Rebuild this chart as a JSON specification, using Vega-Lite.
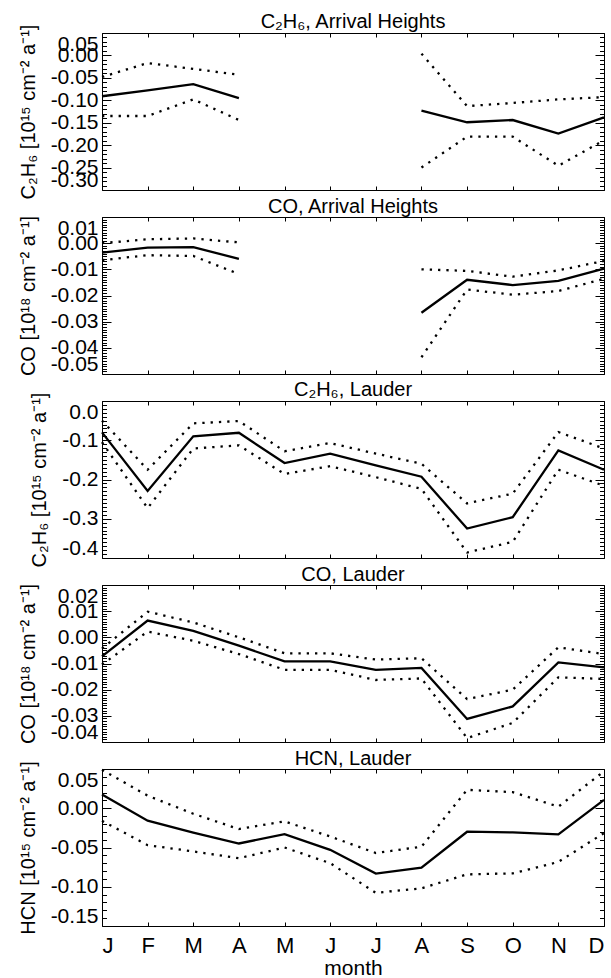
{
  "$schema": "https://vega.github.io/schema/vega-lite/v6.json",
  "background": "white",
  "padding": {"left": 17, "top": 11, "right": 5, "bottom": 0},
  "spacing": 27,
  "bounds": "flush",
  "config": {
    "view": {"stroke": "black", "strokeWidth": 1},
    "axis": {"domain": false, "grid": false, "tickColor": "black", "tickWidth": 1, "labelFont": "Liberation Sans", "labelFontSize": 21, "labelColor": "black", "titleFont": "Liberation Sans", "titleFontSize": 20, "titleFontWeight": "normal", "titleColor": "black", "labelOverlap": false},
    "title": {"font": "Liberation Sans", "fontSize": 20, "fontWeight": "normal", "color": "black", "offset": -8},
    "line": {"color": "black"}
  },
  "data": {"values": [
    {"p": 1, "s": "mean", "g": "a", "m": 1, "v": -0.091},
    {"p": 1, "s": "mean", "g": "a", "m": 2, "v": -0.078},
    {"p": 1, "s": "mean", "g": "a", "m": 3, "v": -0.064},
    {"p": 1, "s": "mean", "g": "a", "m": 4, "v": -0.095},
    {"p": 1, "s": "mean", "g": "b", "m": 8, "v": -0.123},
    {"p": 1, "s": "mean", "g": "b", "m": 9, "v": -0.149},
    {"p": 1, "s": "mean", "g": "b", "m": 10, "v": -0.144},
    {"p": 1, "s": "mean", "g": "b", "m": 11, "v": -0.174},
    {"p": 1, "s": "mean", "g": "b", "m": 12, "v": -0.138},
    {"p": 1, "s": "upper", "g": "a", "m": 1, "v": -0.048},
    {"p": 1, "s": "upper", "g": "a", "m": 2, "v": -0.017},
    {"p": 1, "s": "upper", "g": "a", "m": 3, "v": -0.030},
    {"p": 1, "s": "upper", "g": "a", "m": 4, "v": -0.043},
    {"p": 1, "s": "upper", "g": "b", "m": 8, "v": 0.004},
    {"p": 1, "s": "upper", "g": "b", "m": 9, "v": -0.113},
    {"p": 1, "s": "upper", "g": "b", "m": 10, "v": -0.106},
    {"p": 1, "s": "upper", "g": "b", "m": 11, "v": -0.098},
    {"p": 1, "s": "upper", "g": "b", "m": 12, "v": -0.093},
    {"p": 1, "s": "lower", "g": "a", "m": 1, "v": -0.135},
    {"p": 1, "s": "lower", "g": "a", "m": 2, "v": -0.135},
    {"p": 1, "s": "lower", "g": "a", "m": 3, "v": -0.098},
    {"p": 1, "s": "lower", "g": "a", "m": 4, "v": -0.144},
    {"p": 1, "s": "lower", "g": "b", "m": 8, "v": -0.250},
    {"p": 1, "s": "lower", "g": "b", "m": 9, "v": -0.181},
    {"p": 1, "s": "lower", "g": "b", "m": 10, "v": -0.181},
    {"p": 1, "s": "lower", "g": "b", "m": 11, "v": -0.246},
    {"p": 1, "s": "lower", "g": "b", "m": 12, "v": -0.189},

    {"p": 2, "s": "mean", "g": "a", "m": 1, "v": -0.0036},
    {"p": 2, "s": "mean", "g": "a", "m": 2, "v": -0.0017},
    {"p": 2, "s": "mean", "g": "a", "m": 3, "v": -0.0015},
    {"p": 2, "s": "mean", "g": "a", "m": 4, "v": -0.0060},
    {"p": 2, "s": "mean", "g": "b", "m": 8, "v": -0.0266},
    {"p": 2, "s": "mean", "g": "b", "m": 9, "v": -0.0140},
    {"p": 2, "s": "mean", "g": "b", "m": 10, "v": -0.0160},
    {"p": 2, "s": "mean", "g": "b", "m": 11, "v": -0.0144},
    {"p": 2, "s": "mean", "g": "b", "m": 12, "v": -0.0097},
    {"p": 2, "s": "upper", "g": "a", "m": 1, "v": 0.0000},
    {"p": 2, "s": "upper", "g": "a", "m": 2, "v": 0.0015},
    {"p": 2, "s": "upper", "g": "a", "m": 3, "v": 0.0018},
    {"p": 2, "s": "upper", "g": "a", "m": 4, "v": 0.0003},
    {"p": 2, "s": "upper", "g": "b", "m": 8, "v": -0.0100},
    {"p": 2, "s": "upper", "g": "b", "m": 9, "v": -0.0106},
    {"p": 2, "s": "upper", "g": "b", "m": 10, "v": -0.0128},
    {"p": 2, "s": "upper", "g": "b", "m": 11, "v": -0.0104},
    {"p": 2, "s": "upper", "g": "b", "m": 12, "v": -0.0068},
    {"p": 2, "s": "lower", "g": "a", "m": 1, "v": -0.0065},
    {"p": 2, "s": "lower", "g": "a", "m": 2, "v": -0.0046},
    {"p": 2, "s": "lower", "g": "a", "m": 3, "v": -0.0049},
    {"p": 2, "s": "lower", "g": "a", "m": 4, "v": -0.0118},
    {"p": 2, "s": "lower", "g": "b", "m": 8, "v": -0.0436},
    {"p": 2, "s": "lower", "g": "b", "m": 9, "v": -0.0177},
    {"p": 2, "s": "lower", "g": "b", "m": 10, "v": -0.0197},
    {"p": 2, "s": "lower", "g": "b", "m": 11, "v": -0.0183},
    {"p": 2, "s": "lower", "g": "b", "m": 12, "v": -0.0136},

    {"p": 3, "s": "mean", "g": "a", "m": 1, "v": -0.080},
    {"p": 3, "s": "mean", "g": "a", "m": 2, "v": -0.229},
    {"p": 3, "s": "mean", "g": "a", "m": 3, "v": -0.090},
    {"p": 3, "s": "mean", "g": "a", "m": 4, "v": -0.081},
    {"p": 3, "s": "mean", "g": "a", "m": 5, "v": -0.158},
    {"p": 3, "s": "mean", "g": "a", "m": 6, "v": -0.134},
    {"p": 3, "s": "mean", "g": "a", "m": 7, "v": -0.164},
    {"p": 3, "s": "mean", "g": "a", "m": 8, "v": -0.193},
    {"p": 3, "s": "mean", "g": "a", "m": 9, "v": -0.325},
    {"p": 3, "s": "mean", "g": "a", "m": 10, "v": -0.296},
    {"p": 3, "s": "mean", "g": "a", "m": 11, "v": -0.126},
    {"p": 3, "s": "mean", "g": "a", "m": 12, "v": -0.175},
    {"p": 3, "s": "upper", "g": "a", "m": 1, "v": -0.050},
    {"p": 3, "s": "upper", "g": "a", "m": 2, "v": -0.175},
    {"p": 3, "s": "upper", "g": "a", "m": 3, "v": -0.057},
    {"p": 3, "s": "upper", "g": "a", "m": 4, "v": -0.051},
    {"p": 3, "s": "upper", "g": "a", "m": 5, "v": -0.128},
    {"p": 3, "s": "upper", "g": "a", "m": 6, "v": -0.107},
    {"p": 3, "s": "upper", "g": "a", "m": 7, "v": -0.134},
    {"p": 3, "s": "upper", "g": "a", "m": 8, "v": -0.160},
    {"p": 3, "s": "upper", "g": "a", "m": 9, "v": -0.261},
    {"p": 3, "s": "upper", "g": "a", "m": 10, "v": -0.236},
    {"p": 3, "s": "upper", "g": "a", "m": 11, "v": -0.079},
    {"p": 3, "s": "upper", "g": "a", "m": 12, "v": -0.121},
    {"p": 3, "s": "lower", "g": "a", "m": 1, "v": -0.105},
    {"p": 3, "s": "lower", "g": "a", "m": 2, "v": -0.273},
    {"p": 3, "s": "lower", "g": "a", "m": 3, "v": -0.121},
    {"p": 3, "s": "lower", "g": "a", "m": 4, "v": -0.113},
    {"p": 3, "s": "lower", "g": "a", "m": 5, "v": -0.186},
    {"p": 3, "s": "lower", "g": "a", "m": 6, "v": -0.166},
    {"p": 3, "s": "lower", "g": "a", "m": 7, "v": -0.194},
    {"p": 3, "s": "lower", "g": "a", "m": 8, "v": -0.224},
    {"p": 3, "s": "lower", "g": "a", "m": 9, "v": -0.386},
    {"p": 3, "s": "lower", "g": "a", "m": 10, "v": -0.359},
    {"p": 3, "s": "lower", "g": "a", "m": 11, "v": -0.175},
    {"p": 3, "s": "lower", "g": "a", "m": 12, "v": -0.216},

    {"p": 4, "s": "mean", "g": "a", "m": 1, "v": -0.0073},
    {"p": 4, "s": "mean", "g": "a", "m": 2, "v": 0.0064},
    {"p": 4, "s": "mean", "g": "a", "m": 3, "v": 0.0025},
    {"p": 4, "s": "mean", "g": "a", "m": 4, "v": -0.0032},
    {"p": 4, "s": "mean", "g": "a", "m": 5, "v": -0.0092},
    {"p": 4, "s": "mean", "g": "a", "m": 6, "v": -0.0092},
    {"p": 4, "s": "mean", "g": "a", "m": 7, "v": -0.0124},
    {"p": 4, "s": "mean", "g": "a", "m": 8, "v": -0.0117},
    {"p": 4, "s": "mean", "g": "a", "m": 9, "v": -0.0312},
    {"p": 4, "s": "mean", "g": "a", "m": 10, "v": -0.0264},
    {"p": 4, "s": "mean", "g": "a", "m": 11, "v": -0.0096},
    {"p": 4, "s": "mean", "g": "a", "m": 12, "v": -0.0115},
    {"p": 4, "s": "upper", "g": "a", "m": 1, "v": -0.0043},
    {"p": 4, "s": "upper", "g": "a", "m": 2, "v": 0.0098},
    {"p": 4, "s": "upper", "g": "a", "m": 3, "v": 0.0057},
    {"p": 4, "s": "upper", "g": "a", "m": 4, "v": 0.0000},
    {"p": 4, "s": "upper", "g": "a", "m": 5, "v": -0.0061},
    {"p": 4, "s": "upper", "g": "a", "m": 6, "v": -0.0061},
    {"p": 4, "s": "upper", "g": "a", "m": 7, "v": -0.0085},
    {"p": 4, "s": "upper", "g": "a", "m": 8, "v": -0.0080},
    {"p": 4, "s": "upper", "g": "a", "m": 9, "v": -0.0236},
    {"p": 4, "s": "upper", "g": "a", "m": 10, "v": -0.0200},
    {"p": 4, "s": "upper", "g": "a", "m": 11, "v": -0.0038},
    {"p": 4, "s": "upper", "g": "a", "m": 12, "v": -0.0064},
    {"p": 4, "s": "lower", "g": "a", "m": 1, "v": -0.0104},
    {"p": 4, "s": "lower", "g": "a", "m": 2, "v": 0.0022},
    {"p": 4, "s": "lower", "g": "a", "m": 3, "v": -0.0013},
    {"p": 4, "s": "lower", "g": "a", "m": 4, "v": -0.0064},
    {"p": 4, "s": "lower", "g": "a", "m": 5, "v": -0.0124},
    {"p": 4, "s": "lower", "g": "a", "m": 6, "v": -0.0124},
    {"p": 4, "s": "lower", "g": "a", "m": 7, "v": -0.0163},
    {"p": 4, "s": "lower", "g": "a", "m": 8, "v": -0.0157},
    {"p": 4, "s": "lower", "g": "a", "m": 9, "v": -0.0385},
    {"p": 4, "s": "lower", "g": "a", "m": 10, "v": -0.0327},
    {"p": 4, "s": "lower", "g": "a", "m": 11, "v": -0.0153},
    {"p": 4, "s": "lower", "g": "a", "m": 12, "v": -0.0159},

    {"p": 5, "s": "mean", "g": "a", "m": 1, "v": 0.0175},
    {"p": 5, "s": "mean", "g": "a", "m": 2, "v": -0.0158},
    {"p": 5, "s": "mean", "g": "a", "m": 3, "v": -0.0310},
    {"p": 5, "s": "mean", "g": "a", "m": 4, "v": -0.0449},
    {"p": 5, "s": "mean", "g": "a", "m": 5, "v": -0.0329},
    {"p": 5, "s": "mean", "g": "a", "m": 6, "v": -0.0530},
    {"p": 5, "s": "mean", "g": "a", "m": 7, "v": -0.0833},
    {"p": 5, "s": "mean", "g": "a", "m": 8, "v": -0.0756},
    {"p": 5, "s": "mean", "g": "a", "m": 9, "v": -0.0299},
    {"p": 5, "s": "mean", "g": "a", "m": 10, "v": -0.0308},
    {"p": 5, "s": "mean", "g": "a", "m": 11, "v": -0.0333},
    {"p": 5, "s": "mean", "g": "a", "m": 12, "v": 0.0107},
    {"p": 5, "s": "upper", "g": "a", "m": 1, "v": 0.0490},
    {"p": 5, "s": "upper", "g": "a", "m": 2, "v": 0.0160},
    {"p": 5, "s": "upper", "g": "a", "m": 3, "v": -0.0070},
    {"p": 5, "s": "upper", "g": "a", "m": 4, "v": -0.0265},
    {"p": 5, "s": "upper", "g": "a", "m": 5, "v": -0.0167},
    {"p": 5, "s": "upper", "g": "a", "m": 6, "v": -0.0360},
    {"p": 5, "s": "upper", "g": "a", "m": 7, "v": -0.0570},
    {"p": 5, "s": "upper", "g": "a", "m": 8, "v": -0.0490},
    {"p": 5, "s": "upper", "g": "a", "m": 9, "v": 0.0235},
    {"p": 5, "s": "upper", "g": "a", "m": 10, "v": 0.0205},
    {"p": 5, "s": "upper", "g": "a", "m": 11, "v": 0.0020},
    {"p": 5, "s": "upper", "g": "a", "m": 12, "v": 0.0470},
    {"p": 5, "s": "lower", "g": "a", "m": 1, "v": -0.0160},
    {"p": 5, "s": "lower", "g": "a", "m": 2, "v": -0.0470},
    {"p": 5, "s": "lower", "g": "a", "m": 3, "v": -0.0550},
    {"p": 5, "s": "lower", "g": "a", "m": 4, "v": -0.0637},
    {"p": 5, "s": "lower", "g": "a", "m": 5, "v": -0.0500},
    {"p": 5, "s": "lower", "g": "a", "m": 6, "v": -0.0700},
    {"p": 5, "s": "lower", "g": "a", "m": 7, "v": -0.1077},
    {"p": 5, "s": "lower", "g": "a", "m": 8, "v": -0.1020},
    {"p": 5, "s": "lower", "g": "a", "m": 9, "v": -0.0842},
    {"p": 5, "s": "lower", "g": "a", "m": 10, "v": -0.0830},
    {"p": 5, "s": "lower", "g": "a", "m": 11, "v": -0.0684},
    {"p": 5, "s": "lower", "g": "a", "m": 12, "v": -0.0316}
  ]},
  "vconcat": [
    {
      "width": 502, "height": 157,
      "title": "C₂H₆, Arrival Heights",
      "transform": [{"filter": "datum.p == 1"}],
      "resolve": {"axis": {"x": "independent", "y": "independent"}},
      "layer": [
        {
          "transform": [{"filter": "datum.s == 'mean'"}],
          "mark": {"type": "line", "strokeWidth": 2.3, "color": "black"},
          "encoding": {
            "x": {"field": "m", "type": "quantitative", "scale": {"domain": [1, 12], "nice": false, "zero": false},
                  "axis": {"orient": "bottom", "values": [1,2,3,4,5,6,7,8,9,10,11,12], "tickSize": -4, "labels": false, "title": null}},
            "y": {"field": "v", "type": "quantitative", "scale": {"domain": [-0.30, 0.05], "nice": false, "zero": false},
                  "axis": {"orient": "left", "values": [0.05,0.04,0.03,0.02,0.01,0,-0.01,-0.02,-0.03,-0.04,-0.05,-0.06,-0.07,-0.08,-0.09,-0.1,-0.11,-0.12,-0.13,-0.14,-0.15,-0.16,-0.17,-0.18,-0.19,-0.2,-0.21,-0.22,-0.23,-0.24,-0.25,-0.26,-0.27,-0.28,-0.29,-0.3],
                           "tickSize": {"condition": {"test": "abs(round(datum.value*100)) % 5 == 0", "value": -9}, "value": -4.5},
                           "labelExpr": "abs(round(datum.value*100)) % 5 == 0 ? replace(format(datum.value, '.2f'), '−', '-') : ''",
                           "labelFlush": true, "labelPadding": 13, "title": "C₂H₆ [10¹⁵ cm⁻² a⁻¹]", "titlePadding": 12}},
            "detail": {"field": "g"}
          }
        },
        {
          "transform": [{"filter": "datum.s != 'mean'"}],
          "mark": {"type": "line", "strokeWidth": 2.3, "strokeDash": [2.3, 6], "strokeCap": "butt", "color": "black"},
          "encoding": {
            "x": {"field": "m", "type": "quantitative", "scale": {"domain": [1, 12], "nice": false, "zero": false},
                  "axis": {"orient": "top", "values": [1,2,3,4,5,6,7,8,9,10,11,12], "tickSize": -4, "labels": false, "title": null}},
            "y": {"field": "v", "type": "quantitative", "scale": {"domain": [-0.30, 0.05], "nice": false, "zero": false},
                  "axis": {"orient": "right", "values": [0.05,0.04,0.03,0.02,0.01,0,-0.01,-0.02,-0.03,-0.04,-0.05,-0.06,-0.07,-0.08,-0.09,-0.1,-0.11,-0.12,-0.13,-0.14,-0.15,-0.16,-0.17,-0.18,-0.19,-0.2,-0.21,-0.22,-0.23,-0.24,-0.25,-0.26,-0.27,-0.28,-0.29,-0.3],
                           "tickSize": {"condition": {"test": "abs(round(datum.value*100)) % 5 == 0", "value": -9}, "value": -4.5},
                           "labels": false, "title": null}},
            "detail": [{"field": "g"}, {"field": "s"}]
          }
        }
      ]
    },
    {
      "width": 502, "height": 157,
      "title": "CO, Arrival Heights",
      "transform": [{"filter": "datum.p == 2"}],
      "resolve": {"axis": {"x": "independent", "y": "independent"}},
      "layer": [
        {
          "transform": [{"filter": "datum.s == 'mean'"}],
          "mark": {"type": "line", "strokeWidth": 2.3, "color": "black"},
          "encoding": {
            "x": {"field": "m", "type": "quantitative", "scale": {"domain": [1, 12], "nice": false, "zero": false},
                  "axis": {"orient": "bottom", "values": [1,2,3,4,5,6,7,8,9,10,11,12], "tickSize": -4, "labels": false, "title": null}},
            "y": {"field": "v", "type": "quantitative", "scale": {"domain": [-0.05, 0.01], "nice": false, "zero": false},
                  "axis": {"orient": "left", "values": [0.01,0.009,0.008,0.007,0.006,0.005,0.004,0.003,0.002,0.001,0,-0.001,-0.002,-0.003,-0.004,-0.005,-0.006,-0.007,-0.008,-0.009,-0.01,-0.011,-0.012,-0.013,-0.014,-0.015,-0.016,-0.017,-0.018,-0.019,-0.02,-0.021,-0.022,-0.023,-0.024,-0.025,-0.026,-0.027,-0.028,-0.029,-0.03,-0.031,-0.032,-0.033,-0.034,-0.035,-0.036,-0.037,-0.038,-0.039,-0.04,-0.041,-0.042,-0.043,-0.044,-0.045,-0.046,-0.047,-0.048,-0.049,-0.05],
                           "tickSize": {"condition": {"test": "abs(round(datum.value*1000)) % 10 == 0", "value": -9}, "value": -4.5},
                           "labelExpr": "abs(round(datum.value*1000)) % 10 == 0 ? replace(format(datum.value, '.2f'), '−', '-') : ''",
                           "labelFlush": true, "labelPadding": 13, "title": "CO [10¹⁸ cm⁻² a⁻¹]", "titlePadding": 12}},
            "detail": {"field": "g"}
          }
        },
        {
          "transform": [{"filter": "datum.s != 'mean'"}],
          "mark": {"type": "line", "strokeWidth": 2.3, "strokeDash": [2.3, 6], "strokeCap": "butt", "color": "black"},
          "encoding": {
            "x": {"field": "m", "type": "quantitative", "scale": {"domain": [1, 12], "nice": false, "zero": false},
                  "axis": {"orient": "top", "values": [1,2,3,4,5,6,7,8,9,10,11,12], "tickSize": -4, "labels": false, "title": null}},
            "y": {"field": "v", "type": "quantitative", "scale": {"domain": [-0.05, 0.01], "nice": false, "zero": false},
                  "axis": {"orient": "right", "values": [0.01,0.009,0.008,0.007,0.006,0.005,0.004,0.003,0.002,0.001,0,-0.001,-0.002,-0.003,-0.004,-0.005,-0.006,-0.007,-0.008,-0.009,-0.01,-0.011,-0.012,-0.013,-0.014,-0.015,-0.016,-0.017,-0.018,-0.019,-0.02,-0.021,-0.022,-0.023,-0.024,-0.025,-0.026,-0.027,-0.028,-0.029,-0.03,-0.031,-0.032,-0.033,-0.034,-0.035,-0.036,-0.037,-0.038,-0.039,-0.04,-0.041,-0.042,-0.043,-0.044,-0.045,-0.046,-0.047,-0.048,-0.049,-0.05],
                           "tickSize": {"condition": {"test": "abs(round(datum.value*1000)) % 10 == 0", "value": -9}, "value": -4.5},
                           "labels": false, "title": null}},
            "detail": [{"field": "g"}, {"field": "s"}]
          }
        }
      ]
    },
    {
      "width": 502, "height": 157,
      "title": "C₂H₆, Lauder",
      "transform": [{"filter": "datum.p == 3"}],
      "resolve": {"axis": {"x": "independent", "y": "independent"}},
      "layer": [
        {
          "transform": [{"filter": "datum.s == 'mean'"}],
          "mark": {"type": "line", "strokeWidth": 2.3, "color": "black"},
          "encoding": {
            "x": {"field": "m", "type": "quantitative", "scale": {"domain": [1, 12], "nice": false, "zero": false},
                  "axis": {"orient": "bottom", "values": [1,2,3,4,5,6,7,8,9,10,11,12], "tickSize": -4, "labels": false, "title": null}},
            "y": {"field": "v", "type": "quantitative", "scale": {"domain": [-0.4, 0.0], "nice": false, "zero": false},
                  "axis": {"orient": "left", "values": [0,-0.01,-0.02,-0.03,-0.04,-0.05,-0.06,-0.07,-0.08,-0.09,-0.1,-0.11,-0.12,-0.13,-0.14,-0.15,-0.16,-0.17,-0.18,-0.19,-0.2,-0.21,-0.22,-0.23,-0.24,-0.25,-0.26,-0.27,-0.28,-0.29,-0.3,-0.31,-0.32,-0.33,-0.34,-0.35,-0.36,-0.37,-0.38,-0.39,-0.4],
                           "tickSize": {"condition": {"test": "abs(round(datum.value*100)) % 10 == 0", "value": -9}, "value": -4.5},
                           "labelExpr": "abs(round(datum.value*100)) % 10 == 0 ? replace(format(datum.value, '.1f'), '−', '-') : ''",
                           "labelFlush": true, "labelPadding": 13, "title": "C₂H₆ [10¹⁵ cm⁻² a⁻¹]", "titlePadding": 12}},
            "detail": {"field": "g"}
          }
        },
        {
          "transform": [{"filter": "datum.s != 'mean'"}],
          "mark": {"type": "line", "strokeWidth": 2.3, "strokeDash": [2.3, 6], "strokeCap": "butt", "color": "black"},
          "encoding": {
            "x": {"field": "m", "type": "quantitative", "scale": {"domain": [1, 12], "nice": false, "zero": false},
                  "axis": {"orient": "top", "values": [1,2,3,4,5,6,7,8,9,10,11,12], "tickSize": -4, "labels": false, "title": null}},
            "y": {"field": "v", "type": "quantitative", "scale": {"domain": [-0.4, 0.0], "nice": false, "zero": false},
                  "axis": {"orient": "right", "values": [0,-0.01,-0.02,-0.03,-0.04,-0.05,-0.06,-0.07,-0.08,-0.09,-0.1,-0.11,-0.12,-0.13,-0.14,-0.15,-0.16,-0.17,-0.18,-0.19,-0.2,-0.21,-0.22,-0.23,-0.24,-0.25,-0.26,-0.27,-0.28,-0.29,-0.3,-0.31,-0.32,-0.33,-0.34,-0.35,-0.36,-0.37,-0.38,-0.39,-0.4],
                           "tickSize": {"condition": {"test": "abs(round(datum.value*100)) % 10 == 0", "value": -9}, "value": -4.5},
                           "labels": false, "title": null}},
            "detail": [{"field": "g"}, {"field": "s"}]
          }
        }
      ]
    },
    {
      "width": 502, "height": 157,
      "title": "CO, Lauder",
      "transform": [{"filter": "datum.p == 4"}],
      "resolve": {"axis": {"x": "independent", "y": "independent"}},
      "layer": [
        {
          "transform": [{"filter": "datum.s == 'mean'"}],
          "mark": {"type": "line", "strokeWidth": 2.3, "color": "black"},
          "encoding": {
            "x": {"field": "m", "type": "quantitative", "scale": {"domain": [1, 12], "nice": false, "zero": false},
                  "axis": {"orient": "bottom", "values": [1,2,3,4,5,6,7,8,9,10,11,12], "tickSize": -4, "labels": false, "title": null}},
            "y": {"field": "v", "type": "quantitative", "scale": {"domain": [-0.04, 0.02], "nice": false, "zero": false},
                  "axis": {"orient": "left", "values": [0.02,0.019,0.018,0.017,0.016,0.015,0.014,0.013,0.012,0.011,0.01,0.009,0.008,0.007,0.006,0.005,0.004,0.003,0.002,0.001,0,-0.001,-0.002,-0.003,-0.004,-0.005,-0.006,-0.007,-0.008,-0.009,-0.01,-0.011,-0.012,-0.013,-0.014,-0.015,-0.016,-0.017,-0.018,-0.019,-0.02,-0.021,-0.022,-0.023,-0.024,-0.025,-0.026,-0.027,-0.028,-0.029,-0.03,-0.031,-0.032,-0.033,-0.034,-0.035,-0.036,-0.037,-0.038,-0.039,-0.04],
                           "tickSize": {"condition": {"test": "abs(round(datum.value*1000)) % 10 == 0", "value": -9}, "value": -4.5},
                           "labelExpr": "abs(round(datum.value*1000)) % 10 == 0 ? replace(format(datum.value, '.2f'), '−', '-') : ''",
                           "labelFlush": true, "labelPadding": 13, "title": "CO [10¹⁸ cm⁻² a⁻¹]", "titlePadding": 12}},
            "detail": {"field": "g"}
          }
        },
        {
          "transform": [{"filter": "datum.s != 'mean'"}],
          "mark": {"type": "line", "strokeWidth": 2.3, "strokeDash": [2.3, 6], "strokeCap": "butt", "color": "black"},
          "encoding": {
            "x": {"field": "m", "type": "quantitative", "scale": {"domain": [1, 12], "nice": false, "zero": false},
                  "axis": {"orient": "top", "values": [1,2,3,4,5,6,7,8,9,10,11,12], "tickSize": -4, "labels": false, "title": null}},
            "y": {"field": "v", "type": "quantitative", "scale": {"domain": [-0.04, 0.02], "nice": false, "zero": false},
                  "axis": {"orient": "right", "values": [0.02,0.019,0.018,0.017,0.016,0.015,0.014,0.013,0.012,0.011,0.01,0.009,0.008,0.007,0.006,0.005,0.004,0.003,0.002,0.001,0,-0.001,-0.002,-0.003,-0.004,-0.005,-0.006,-0.007,-0.008,-0.009,-0.01,-0.011,-0.012,-0.013,-0.014,-0.015,-0.016,-0.017,-0.018,-0.019,-0.02,-0.021,-0.022,-0.023,-0.024,-0.025,-0.026,-0.027,-0.028,-0.029,-0.03,-0.031,-0.032,-0.033,-0.034,-0.035,-0.036,-0.037,-0.038,-0.039,-0.04],
                           "tickSize": {"condition": {"test": "abs(round(datum.value*1000)) % 10 == 0", "value": -9}, "value": -4.5},
                           "labels": false, "title": null}},
            "detail": [{"field": "g"}, {"field": "s"}]
          }
        }
      ]
    },
    {
      "width": 502, "height": 157,
      "title": "HCN, Lauder",
      "transform": [{"filter": "datum.p == 5"}],
      "resolve": {"axis": {"x": "independent", "y": "independent"}},
      "layer": [
        {
          "transform": [{"filter": "datum.s == 'mean'"}],
          "mark": {"type": "line", "strokeWidth": 2.3, "color": "black"},
          "encoding": {
            "x": {"field": "m", "type": "quantitative", "scale": {"domain": [1, 12], "nice": false, "zero": false},
                  "axis": {"orient": "bottom", "values": [1,2,3,4,5,6,7,8,9,10,11,12], "tickSize": -4, "labelPadding": 13, "labelFontSize": 22,
                           "labelExpr": "['J','F','M','A','M','J','J','A','S','O','N','D'][datum.value - 1]",
                           "title": "month", "titleFontSize": 21, "titlePadding": 1}},
            "y": {"field": "v", "type": "quantitative", "scale": {"domain": [-0.15, 0.05], "nice": false, "zero": false},
                  "axis": {"orient": "left", "values": [0.05,0.04,0.03,0.02,0.01,0,-0.01,-0.02,-0.03,-0.04,-0.05,-0.06,-0.07,-0.08,-0.09,-0.1,-0.11,-0.12,-0.13,-0.14,-0.15],
                           "tickSize": {"condition": {"test": "abs(round(datum.value*100)) % 5 == 0", "value": -9}, "value": -4.5},
                           "labelExpr": "abs(round(datum.value*100)) % 5 == 0 ? replace(format(datum.value, '.2f'), '−', '-') : ''",
                           "labelFlush": true, "labelPadding": 13, "title": "HCN [10¹⁵ cm⁻² a⁻¹]", "titlePadding": 12}},
            "detail": {"field": "g"}
          }
        },
        {
          "transform": [{"filter": "datum.s != 'mean'"}],
          "mark": {"type": "line", "strokeWidth": 2.3, "strokeDash": [2.3, 6], "strokeCap": "butt", "color": "black"},
          "encoding": {
            "x": {"field": "m", "type": "quantitative", "scale": {"domain": [1, 12], "nice": false, "zero": false},
                  "axis": {"orient": "top", "values": [1,2,3,4,5,6,7,8,9,10,11,12], "tickSize": -4, "labels": false, "title": null}},
            "y": {"field": "v", "type": "quantitative", "scale": {"domain": [-0.15, 0.05], "nice": false, "zero": false},
                  "axis": {"orient": "right", "values": [0.05,0.04,0.03,0.02,0.01,0,-0.01,-0.02,-0.03,-0.04,-0.05,-0.06,-0.07,-0.08,-0.09,-0.1,-0.11,-0.12,-0.13,-0.14,-0.15],
                           "tickSize": {"condition": {"test": "abs(round(datum.value*100)) % 5 == 0", "value": -9}, "value": -4.5},
                           "labels": false, "title": null}},
            "detail": [{"field": "g"}, {"field": "s"}]
          }
        }
      ]
    }
  ]
}
